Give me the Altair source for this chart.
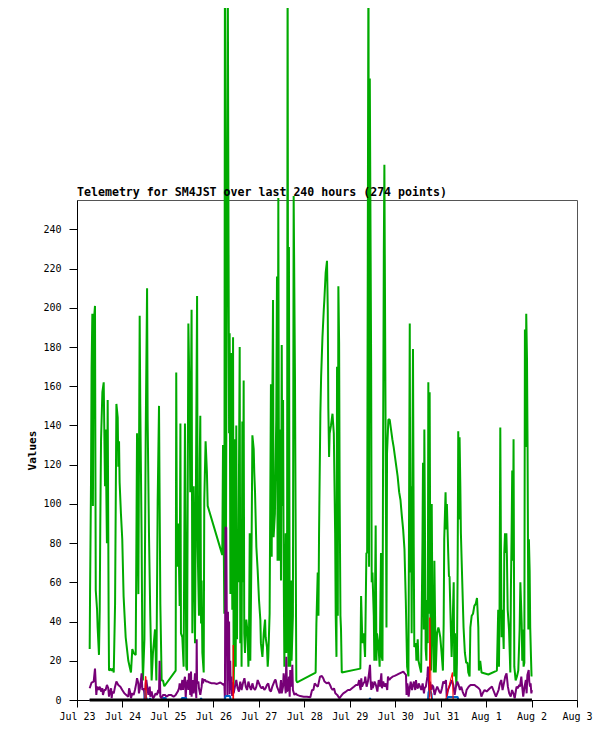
import json
import altair as alt
import pandas as pd

TITLE = "Telemetry for SM4JST over last 240 hours (274 points)"
DAY_LABELS = ["Jul 23", "Jul 24", "Jul 25", "Jul 26", "Jul 27", "Jul 28",
              "Jul 29", "Jul 30", "Jul 31", "Aug 1", "Aug 2", "Aug 3"]
Y_TICKS = list(range(0, 241, 20))

# (hours since Jul 23 00:00, value)
GREEN = [
    (6.7, 26), (6.9, 55), (7.4, 112), (7.7, 169), (8.1, 197), (8.4, 99), (8.8, 192), (9.5, 201),
    (9.9, 56), (10.6, 46), (10.9, 37), (11.6, 23), (12.0, 46), (12.3, 90), (12.7, 133), (13.4, 157),
    (14.1, 162), (14.8, 109), (15.1, 138), (15.8, 80), (16.2, 153), (16.7, 44), (16.9, 15), (17.6, 16),
    (18.3, 15), (19.0, 16), (19.4, 14), (20.1, 49), (20.8, 151), (21.5, 144), (21.8, 119), (22.2, 132),
    (22.5, 111), (23.2, 95), (23.9, 82), (24.6, 53), (25.7, 32), (26.4, 26), (27.1, 20), (27.8, 17),
    (28.5, 14), (29.2, 26), (29.9, 24), (31.0, 23), (31.7, 136), (32.4, 54), (33.1, 196), (33.4, 151),
    (34.1, 85), (34.5, 26), (34.8, 10), (35.6, 31), (36.3, 138), (37.0, 210), (37.3, 143), (38.0, 85),
    (38.7, 43), (39.4, 10), (40.1, 24), (41.2, 36), (41.9, 10), (42.6, 102), (43.3, 150), (44.0, 49),
    (44.7, 10), (45.4, 10), (46.1, 7), (52.1, 15), (52.4, 167), (52.8, 68), (53.5, 90), (54.2, 48),
    (54.6, 141), (54.9, 34), (55.6, 32), (56.3, 17), (57.0, 141), (57.7, 17), (58.1, 15), (58.8, 192),
    (59.5, 150), (59.8, 106), (60.5, 199), (60.9, 34), (61.6, 109), (62.3, 29),
    (63.4, 206), (63.7, 78), (64.4, 43), (64.8, 122), (65.1, 145), (65.5, 39), (65.8, 61), (66.2, 24),
    (66.9, 14), (67.2, 102), (67.9, 132), (68.6, 116), (69.0, 99), (76.7, 74), (77.1, 130), (77.4, 89),
    (77.8, 44), (78.1, 380), (78.6, 60), (79.6, 375), (80.3, 136), (80.6, 187), (81.0, 54), (81.3, 177),
    (82.0, 46), (82.4, 185), (82.7, 7), (83.1, 29), (83.4, 133), (83.8, 17), (84.1, 140), (84.5, 31),
    (84.8, 85), (85.2, 60), (85.9, 180), (86.2, 29), (86.6, 78), (86.9, 17), (87.3, 142), (87.6, 60),
    (88.0, 163), (88.3, 34), (88.7, 24), (89.4, 41), (90.1, 34), (90.5, 17), (90.8, 29), (91.2, 85),
    (91.5, 20), (92.2, 82), (92.6, 135), (93.3, 128), (93.6, 116), (94.0, 106), (94.7, 78), (95.4, 66),
    (96.1, 51), (96.8, 41), (97.1, 29), (97.9, 22), (98.6, 34), (99.3, 41), (99.6, 32), (100.3, 27),
    (100.7, 17), (101.0, 22), (101.7, 44), (102.4, 161), (102.8, 73), (103.1, 146), (103.5, 204),
    (103.8, 83), (104.5, 95), (105.2, 143), (105.6, 216), (105.9, 71), (106.3, 256), (106.7, 71),
    (107.4, 138), (107.7, 61), (108.1, 181), (108.4, 99), (108.8, 153), (109.1, 71), (109.5, 17),
    (109.8, 48), (110.2, 85), (110.5, 24), (110.9, 43), (111.2, 385), (111.6, 17), (111.9, 231),
    (112.3, 29), (112.6, 17), (113.0, 61), (113.3, 20), (114.0, 43), (114.4, 257), (115.1, 163),
    (115.8, 10), (116.2, 9), (126.0, 14),
    (126.4, 39), (127.1, 65), (127.5, 43), (127.8, 85), (128.5, 146), (128.9, 165), (129.6, 185),
    (130.3, 199), (130.6, 204), (131.3, 218), (132.0, 224), (132.4, 199), (132.7, 149), (133.1, 124),
    (133.4, 136), (134.1, 140), (134.9, 146), (135.6, 136), (136.3, 85), (136.6, 43), (137.0, 22),
    (137.3, 170), (137.7, 43), (138.0, 211), (138.4, 182), (138.7, 102), (139.1, 43), (139.4, 36),
    (139.8, 14), (149.6, 16), (150.0, 53), (150.7, 29), (151.4, 34), (152.1, 22), (152.8, 75),
    (153.2, 75), (153.9, 390), (154.2, 68), (154.6, 317), (155.3, 172), (155.6, 60), (156.0, 65),
    (156.7, 43), (157.0, 20), (157.4, 58), (157.7, 89), (158.1, 20), (158.4, 34), (159.1, 29),
    (159.8, 17), (160.5, 75), (160.9, 22), (161.3, 20), (161.6, 123), (162.0, 228), (162.3, 273),
    (163.0, 124), (163.4, 37), (163.7, 126), (164.4, 143), (165.1, 143), (165.8, 138), (166.5, 133),
    (167.2, 129), (167.9, 124), (168.6, 119), (169.3, 114), (170.1, 106), (170.8, 102), (171.5, 94),
    (172.2, 87), (172.9, 77), (173.6, 51), (174.3, 17), (175.0, 12), (175.7, 192), (176.0, 65),
    (176.4, 109), (176.7, 34), (177.4, 179), (177.8, 78), (178.1, 27), (178.9, 29), (179.2, 20),
    (179.9, 31), (180.3, 20), (181.0, 17), (181.7, 14), (182.4, 80), (182.7, 121), (183.1, 36),
    (183.4, 138), (184.1, 26), (184.5, 20), (184.8, 51), (185.2, 29), (185.5, 162), (185.9, 44),
    (186.2, 157), (186.6, 46), (186.9, 15), (187.3, 100), (187.7, 39), (188.4, 14), (188.7, 71),
    (189.4, 14), (190.1, 34), (190.8, 37),
    (191.1, 36), (191.8, 32), (192.5, 24), (193.2, 15), (193.6, 39), (193.9, 82), (194.6, 106),
    (195.0, 87), (195.3, 100), (196.0, 75), (196.4, 63), (196.7, 63), (197.4, 36), (197.8, 22),
    (198.2, 34), (198.9, 60), (199.2, 12), (199.6, 34), (199.9, 17), (200.3, 7), (200.6, 19),
    (201.0, 70), (201.3, 137), (201.7, 92), (202.0, 134), (202.4, 109), (202.7, 85), (203.1, 71),
    (204.1, 37), (204.8, 24), (205.5, 19), (206.2, 19), (206.6, 14), (207.3, 12), (207.7, 37),
    (208.4, 43), (209.1, 44), (209.8, 48), (210.5, 49), (211.2, 52), (211.9, 37), (212.2, 15),
    (212.9, 20), (213.6, 14), (217.2, 13), (221.7, 15), (222.4, 46), (222.8, 17), (223.1, 46),
    (223.5, 139), (223.8, 83), (224.2, 32), (224.6, 46), (225.3, 26), (225.6, 75), (226.0, 85),
    (226.3, 75), (226.7, 85), (227.0, 73), (227.4, 46), (228.1, 36), (228.8, 14), (229.1, 56),
    (229.5, 87), (229.8, 117), (230.2, 71), (230.5, 133), (230.9, 17), (231.6, 10), (232.3, 12),
    (233.0, 15), (233.7, 36), (234.1, 60), (234.4, 51), (234.8, 39), (235.1, 20), (235.5, 36),
    (235.8, 17), (236.2, 19), (236.5, 189), (236.9, 129), (237.2, 197), (237.6, 174), (237.9, 129),
    (238.3, 36), (238.6, 82), (239.0, 66), (239.3, 37), (239.7, 22), (240.0, 12),
]

PURPLE = [
    (6.7, 6.0), (7.7, 8.9), (8.8, 9.4), (9.5, 16), (10.2, 2.6), (10.6, 6.8), (11.3, 5.1), (12.0, 6.8),
    (12.7, 4.3), (13.4, 6.0), (13.7, 2.6), (14.4, 5.1), (15.1, 5.1), (15.8, 7.7), (16.5, 6.0),
    (16.9, 1.7), (17.2, 3.4), (18.0, 6.0), (18.3, 0.9), (18.7, 4.3), (19.4, 3.4), (20.1, 6.8),
    (20.8, 9.4), (21.8, 7.7), (22.9, 6.8), (23.9, 5.1), (25.0, 3.4), (26.0, 2.6), (27.1, 1.7),
    (27.5, 6.0), (28.2, 3.4), (28.5, 0.9), (29.2, 3.4), (29.9, 2.6), (30.6, 5.1), (31.3, 8.5),
    (31.7, 11.1), (32.4, 8.5), (32.7, 3.4), (33.4, 6.8), (34.1, 13.6), (34.5, 5.1), (35.2, 6.0),
    (35.9, 0.9), (36.3, 8.5), (36.6, 10.2), (37.3, 5.1), (37.7, 2.6), (38.4, 6.8), (38.7, 1.7),
    (39.4, 4.3), (40.1, 0.9), (40.8, 1.7), (41.5, 3.4), (42.2, 2.6), (42.9, 5.1), (43.3, 3.4),
    (43.6, 20), (44.0, 1.7), (44.7, 0.9), (45.4, 2.6), (46.5, 2.6), (47.2, 1.7), (48.6, 2.6),
    (49.6, 2.6), (51.0, 1.7), (52.1, 2.6), (53.2, 4.3), (53.9, 6.0), (54.2, 8.5), (54.9, 5.1),
    (55.6, 10.2), (56.0, 5.1), (56.3, 8.5), (57.0, 11.9), (57.4, 0.9), (57.7, 6.8), (58.4, 10.2),
    (58.8, 5.1), (59.1, 13.6), (59.5, 8.5), (59.8, 2.6), (60.2, 14.5), (60.5, 1.7), (60.9, 6.8),
    (61.2, 10.2), (61.6, 3.4), (62.3, 13.6), (62.7, 5.1), (63.0, 0.9), (63.2, 31), (63.4, 8.5),
    (64.1, 9.4), (64.4, 6.0), (65.1, 2.6), (65.8, 6.8), (66.2, 11.1), (66.5, 8.5), (66.9, 10.2),
    (67.6, 10.2), (68.3, 9.4), (69.0, 9.4), (70.0, 8.9), (71.1, 8.5), (72.5, 8.5), (73.9, 8.2),
    (75.7, 8.9), (77.4, 7.7), (77.8, 8.5), (78.1, 0), (78.4, 88), (78.8, 88), (79.1, 41),
    (79.4, 2), (79.7, 45), (80.0, 10), (80.3, 40), (80.6, 3), (80.9, 20), (81.2, 5), (81.5, 12),
    (81.9, 2), (82.2, 9), (82.7, 3.4),
    (83.4, 6.8), (84.1, 10.2), (84.8, 6.0), (85.5, 4.3), (86.2, 9.4), (86.9, 5.1), (87.6, 8.5),
    (88.4, 11.1), (89.1, 6.8), (89.8, 5.1), (90.5, 9.4), (91.2, 6.8), (91.9, 5.1), (92.6, 8.5),
    (93.3, 6.0), (94.0, 5.1), (94.7, 6.8), (95.4, 10.2), (96.1, 8.5), (96.8, 6.8), (97.5, 6.0),
    (98.2, 6.8), (98.9, 5.1), (99.6, 6.0), (100.3, 7.7), (101.0, 8.5), (101.7, 5.1), (102.4, 4.3),
    (103.1, 6.8), (103.8, 8.5), (104.5, 10.2), (104.9, 10.2), (105.6, 6.8), (106.3, 5.1),
    (107.0, 3.4), (107.7, 10.2), (108.1, 3.4), (108.8, 6.8), (109.1, 13.6), (109.8, 8.5),
    (110.2, 3.4), (110.5, 22), (110.9, 4.3), (111.6, 6.0), (111.9, 11.9), (112.3, 1.7),
    (112.6, 15.3), (113.3, 6.8), (113.7, 18), (114.0, 5.1), (114.8, 2.6), (115.5, 3.4),
    (116.2, 2.6), (117.9, 2.0), (119.7, 1.7), (121.4, 1.7), (123.2, 1.4),
    (124.1, 5.1), (124.8, 5.1), (125.5, 8.5), (126.2, 7.7), (127.2, 6.8), (128.3, 11.9),
    (129.3, 12.3), (130.0, 11.1), (130.7, 9.4), (131.8, 8.5), (132.9, 8.9), (133.6, 7.7),
    (134.3, 6.0), (135.0, 5.1), (135.7, 6.0), (136.4, 3.4), (137.4, 2.6), (138.5, 0.9),
    (139.2, 1.7), (139.9, 2.6), (140.6, 3.4), (142.0, 4.3), (143.1, 5.1), (144.1, 5.1),
    (145.2, 6.0), (146.2, 6.8), (147.3, 7.7), (148.3, 7.7), (149.0, 10.2), (149.4, 6.8),
    (149.8, 5.1), (150.1, 11.1), (150.5, 6.8), (151.2, 8.5), (151.9, 9.4), (152.2, 11.9),
    (152.9, 6.8), (153.6, 9.4), (154.3, 14.5), (154.7, 17.9), (155.0, 10.2), (155.4, 5.1),
    (155.7, 9.4), (156.1, 6.0), (156.4, 6.8), (157.1, 9.4), (157.8, 7.7), (158.6, 4.3),
    (159.3, 10.2), (160.0, 6.8), (160.7, 13.6), (161.0, 6.0), (161.7, 9.4), (162.4, 6.8),
    (163.1, 8.5), (163.8, 5.1), (164.2, 11.9), (164.9, 10.2), (165.6, 11.1), (166.6, 11.9),
    (167.7, 12.3), (168.8, 12.8), (169.8, 13.3), (171.2, 14.0), (172.3, 14.5), (173.0, 13.6),
    (173.7, 12.8), (174.0, 2.6), (174.4, 8.5), (174.7, 6.8), (175.1, 1.7), (175.8, 6.8),
    (176.2, 9.4), (176.9, 5.1), (177.2, 6.8), (177.9, 9.4), (178.6, 5.1), (179.0, 10.2),
    (179.3, 6.8), (180.0, 6.0), (180.4, 8.5), (181.1, 6.8), (181.8, 5.1), (182.5, 8.5),
    (183.2, 3.4), (183.5, 6.0), (184.2, 6.8), (185.0, 11.9), (185.3, 17.0), (185.7, 14.5),
    (186.0, 1.7), (186.4, 9.4), (186.7, 6.8), (187.1, 5.1), (187.4, 7.7), (188.1, 6.8),
    (188.8, 2.6), (189.5, 5.1), (190.2, 6.8), (191.3, 4.3), (192.0, 3.4), (192.7, 6.0),
    (193.4, 9.4), (194.1, 8.5), (194.8, 10.2), (195.2, 1.7), (195.9, 5.1), (196.6, 6.8),
    (197.3, 8.5), (198.0, 10.2), (198.7, 7.7), (199.4, 2.6), (200.1, 6.8), (200.8, 9.4),
    (201.5, 7.7), (202.2, 5.1), (202.9, 6.8), (203.6, 4.3), (204.3, 2.6), (205.0, 1.7),
    (205.7, 5.1), (206.8, 6.8), (207.8, 7.7), (208.9, 7.7), (209.9, 7.7), (211.0, 6.8),
    (212.1, 6.0), (212.8, 5.1), (213.5, 1.7), (214.2, 3.4), (215.2, 5.1), (216.3, 4.3),
    (218.0, 6.0), (219.1, 6.8), (219.8, 5.1), (220.5, 3.4), (221.2, 1.7), (221.9, 3.4),
    (222.6, 5.1), (223.3, 8.5), (224.0, 10.2), (224.7, 5.1), (225.4, 8.5), (226.1, 11.9),
    (226.8, 13.6), (227.5, 6.8), (228.2, 3.4), (229.0, 1.7), (229.7, 5.1), (230.4, 3.4),
    (231.1, 0.9), (231.8, 5.1), (232.1, 6.8), (232.8, 6.0), (233.5, 7.7), (233.9, 6.8),
    (234.6, 11.9), (234.9, 8.5), (235.6, 1.7), (236.3, 6.8), (237.0, 10.2), (237.4, 3.4),
    (237.8, 12.8), (238.5, 15.3), (238.8, 9.4), (239.2, 6.8), (239.5, 8.5), (239.9, 3.4),
    (240.2, 5.1),
]

RED = [
    (6.7, 0), (35.8, 0), (36.1, 12), (36.4, 12), (36.6, 0), (82.3, 0), (82.5, 28), (82.7, 0),
    (186.0, 0), (186.3, 42), (186.6, 26), (186.9, 5), (187.2, 0), (194.6, 0), (198.2, 14),
    (198.6, 0), (240.2, 0),
]

BLUE = [
    (6.7, 0), (35.5, 0), (35.9, 5), (36.3, 2), (37.0, 0), (38.3, 0), (38.6, 1), (39.0, 0),
    (45.3, 0), (45.6, 1), (46.8, 1), (47.0, 0), (55.0, 0), (55.4, 1), (57.6, 1), (58.0, 0),
    (65.2, 0), (65.5, 1), (65.9, 0), (78.0, 0), (78.4, 2), (80.8, 2), (81.1, 0), (154.4, 0),
    (154.7, 1), (155.0, 0), (185.3, 0), (185.6, 4), (186.4, 5), (187.2, 3), (187.5, 0),
    (195.3, 0), (195.7, 1.5), (201.0, 1.5), (201.3, 0), (240.2, 0),
]

BLACK = [(6.7, 0), (240.2, 0)]


def frame(pairs):
    return pd.DataFrame(pairs, columns=["h", "v"])


label_expr = json.dumps(DAY_LABELS) + "[round(datum.value / 24)]"

x_enc = alt.X(
    "h:Q",
    scale=alt.Scale(domain=[0, 264], nice=False, zero=False),
    axis=alt.Axis(values=[i * 24 for i in range(len(DAY_LABELS))], labelExpr=label_expr,
                  title=None, grid=False, tickSize=7, labelPadding=4, labelFlush=False,
                  labelOverlap=False),
)
y_enc = alt.Y(
    "v:Q",
    scale=alt.Scale(domain=[0, 255], nice=False),
    axis=alt.Axis(values=Y_TICKS, title="Values", grid=False, tickSize=8, labelPadding=8,
                  titlePadding=5),
)


def line(pairs, color, width):
    return alt.Chart(frame(pairs)).mark_line(
        color=color, strokeWidth=width, strokeJoin="bevel", interpolate="linear"
    ).encode(x=x_enc, y=y_enc, order="h:Q")


title_layer = alt.Chart(pd.DataFrame({"t": [TITLE]})).mark_text(
    align="left", baseline="alphabetic", font="DejaVu Sans Mono", fontSize=11.6,
    fontWeight="bold", color="black"
).encode(text="t:N", x=alt.value(0), y=alt.value(-4))

chart = alt.layer(
    line(GREEN, "#00aa00", 2),
    line(PURPLE, "#770077", 2),
    line(BLUE, "#0066cc", 2),
    line(RED, "#ff0000", 1),
    line(BLACK, "#000000", 3),
    title_layer,
).properties(
    width=500,
    height=500,
    padding={"left": 69, "top": 192, "right": 30, "bottom": 33},
    autosize=alt.AutoSizeParams(type="none"),
    background="white",
).configure_view(
    stroke="#555555", strokeWidth=1
).configure_axis(
    labelFont="DejaVu Sans Mono", labelFontSize=10, labelColor="black",
    tickColor="black", domainColor="black", domainWidth=1, tickWidth=1,
    titleFont="DejaVu Sans Mono", titleFontSize=11, titleFontWeight="bold", titleColor="black",
)

chart.save("out.html", embed_options={"renderer": "svg", "actions": False})
